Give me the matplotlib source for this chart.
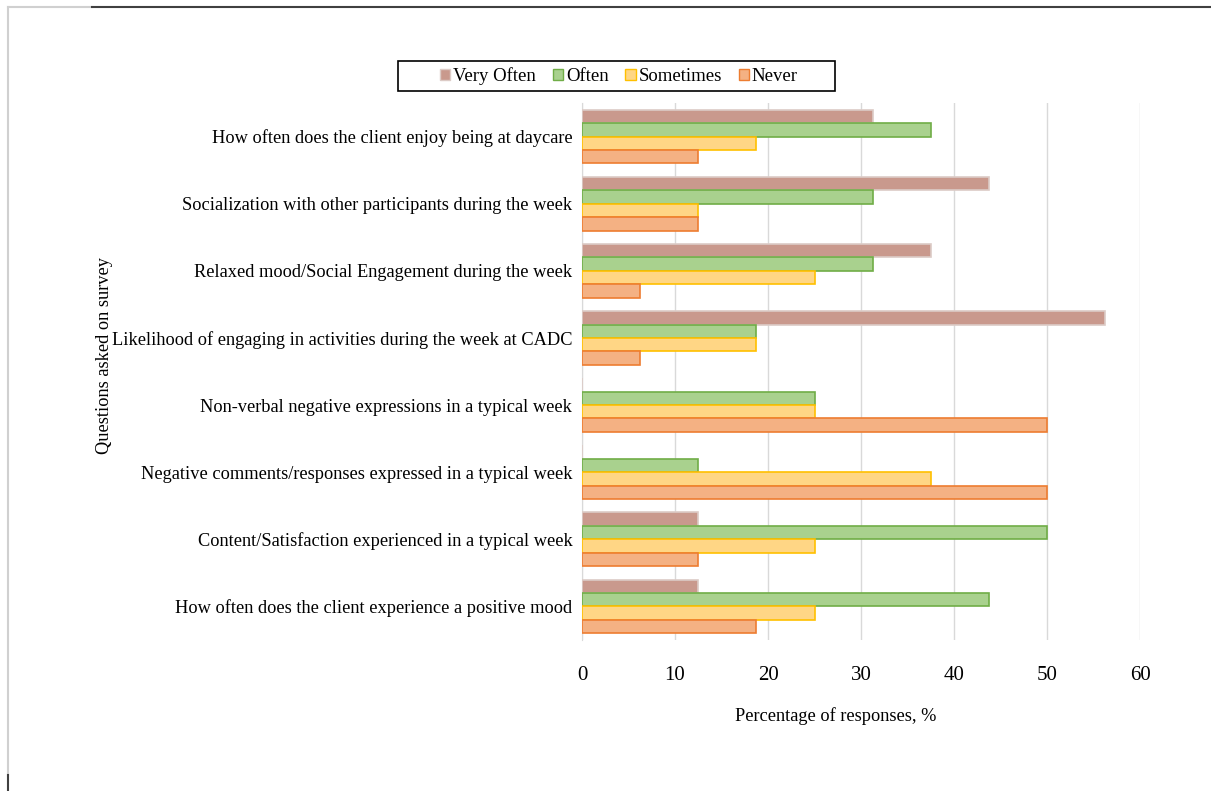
import numpy as np
import matplotlib.pyplot as plt
from matplotlib.lines import Line2D
from matplotlib.patches import Patch, Rectangle

plt.rcParams['font.family'] = ['Liberation Serif', 'DejaVu Serif']

# survey questions, listed top to bottom as in the chart
questions = [
    'How often does the client enjoy being at daycare',
    'Socialization with other participants during the week',
    'Relaxed mood/Social Engagement during the week',
    'Likelihood of engaging in activities during the week at CADC',
    'Non-verbal negative expressions in a typical week',
    'Negative comments/responses expressed in a typical week',
    'Content/Satisfaction experienced in a typical week',
    'How often does the client experience a positive mood',
]

# percentage of responses per answer
very_often = [31.25, 43.75, 37.5, 56.25, 0, 0, 12.5, 12.5]
often = [37.5, 31.25, 31.25, 18.75, 25, 12.5, 50, 43.75]
sometimes = [18.75, 12.5, 25, 18.75, 25, 37.5, 25, 25]
never = [12.5, 12.5, 6.25, 6.25, 50, 50, 12.5, 18.75]

series = [
    ('Very Often', very_often, '#c9998d', '#dccbc6'),
    ('Often', often, '#a9d18e', '#70ad47'),
    ('Sometimes', sometimes, '#ffd685', '#ffc000'),
    ('Never', never, '#f4b183', '#ed7d31'),
]

W, H = 1211, 791
fig = plt.figure(figsize=(W / 100, H / 100), dpi=100)
ax = fig.add_axes([0.4806, 0.1909, 0.4608, 0.6789])

n = len(questions)
# first question sits at the top
ypos = np.arange(n)[::-1]
h = 0.2
for i, (name, vals, fc, ec) in enumerate(series):
    offs = (1.5 - i) * h
    ax.barh(ypos + offs, vals, height=h, color=fc, edgecolor=ec, linewidth=1.2,
            label=name, zorder=3)

ax.set_xlim(0, 60)
ax.set_ylim(-0.5, n - 0.5)
ax.set_xticks(np.arange(0, 61, 10))
ax.set_yticks(ypos)
ax.set_yticklabels(questions, fontsize=13.2)
ax.tick_params(axis='x', length=0, pad=19, labelsize=15)
ax.tick_params(axis='y', length=0, pad=7)
ax.grid(axis='x', color='#d9d9d9', linewidth=1, zorder=0)
for s in ['top', 'right', 'bottom']:
    ax.spines[s].set_visible(False)
ax.spines['left'].set_color('#d9d9d9')

fig.text(0.0867, 0.551, 'Questions asked on survey', rotation=90,
         ha='center', va='center', fontsize=13.2)
fig.text(0.690, 0.095, 'Percentage of responses, %', ha='center', va='center',
         fontsize=13.2)

# legend entries without frame, box drawn separately (wider than entries)
handles = [Patch(facecolor=fc, edgecolor=ec, label=name) for name, _, fc, ec in series]
fig.legend(handles=handles, loc='center', bbox_to_anchor=(0.511, 0.904), ncol=4,
           fontsize=13.5, frameon=False,
           handlelength=0.55, handleheight=0.55, handletextpad=0.15,
           columnspacing=0.9, borderpad=0.35, borderaxespad=0)
fig.add_artist(Rectangle((398 / W, 1 - 91 / H), 437 / W, 30 / H, fill=False,
                         edgecolor='black', linewidth=1.2, transform=fig.transFigure))

# page frame around the chart
fig.add_artist(Line2D([8/W, 92/W], [1 - 7/H] * 2, color='#d0d0d0', lw=1.5))
fig.add_artist(Line2D([92/W, 1], [1 - 7/H] * 2, color='#404040', lw=1.5))
fig.add_artist(Line2D([8/W] * 2, [1 - 7/H, 16/H], color='#d0d0d0', lw=1.5))
fig.add_artist(Line2D([8/W] * 2, [16/H, 0], color='#404040', lw=1.5))

fig.savefig('out.png', dpi=100)
